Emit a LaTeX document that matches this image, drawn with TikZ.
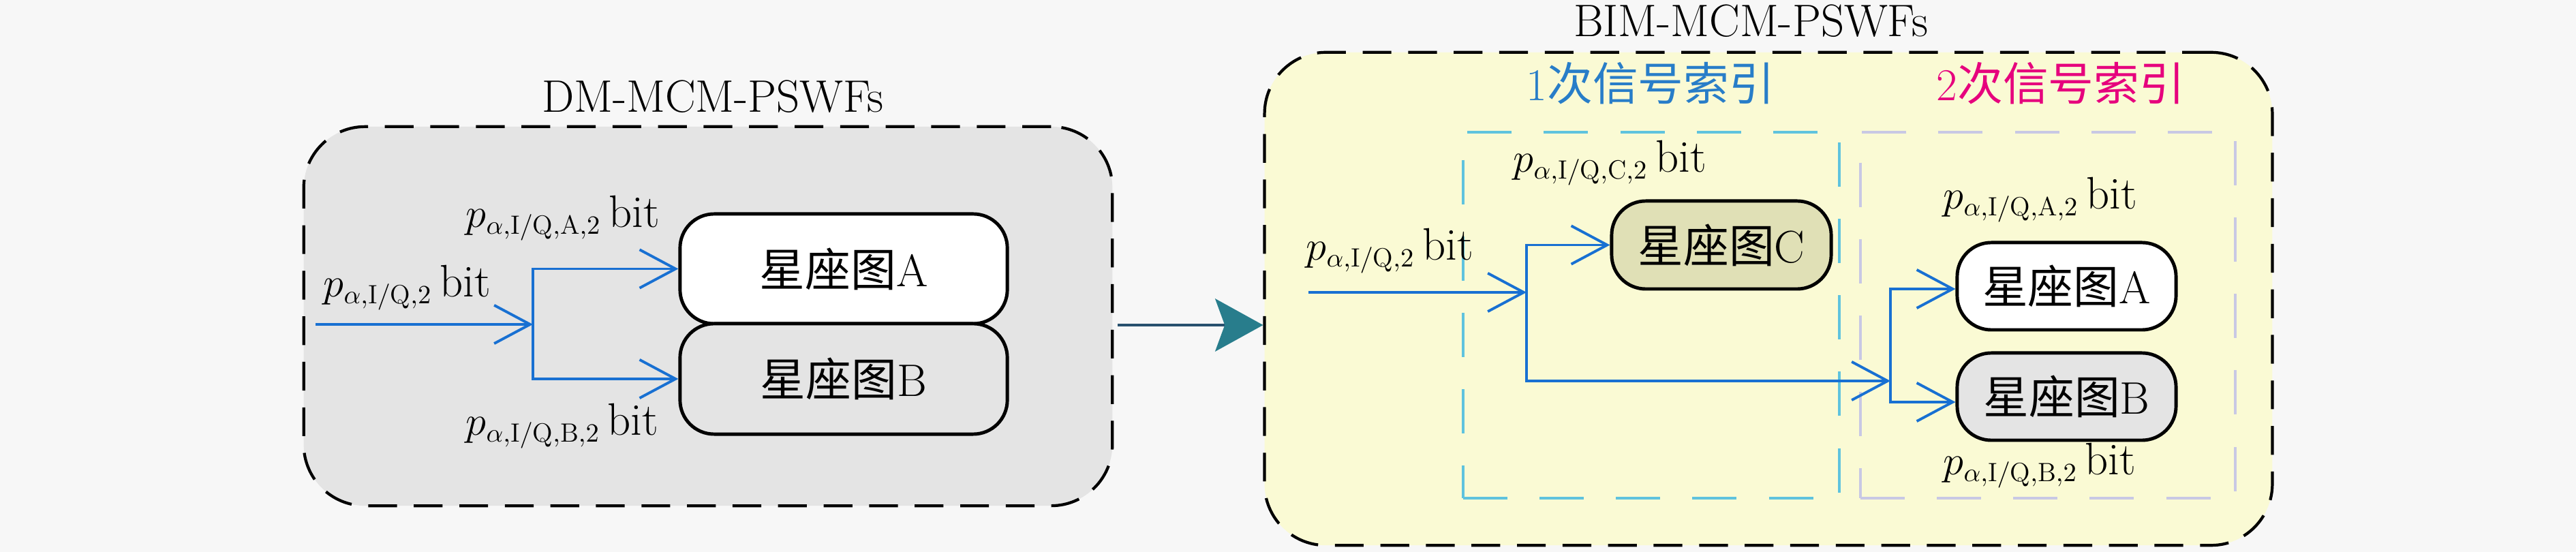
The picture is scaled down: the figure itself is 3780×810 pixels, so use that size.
\documentclass[tikz,border=0pt]{standalone}
\usepackage{fontspec}
\newfontfamily\cjk{Noto Sans CJK SC}
\usetikzlibrary{arrows.meta,calc}
\DeclareMathSizes{19}{19}{11}{8}
\definecolor{bgC}{RGB}{247,247,247}
\definecolor{grayF}{RGB}{228,228,228}
\definecolor{yelF}{RGB}{250,250,212}
\definecolor{olvF}{RGB}{224,224,182}
\definecolor{blueC}{RGB}{24,112,210}
\definecolor{tealC}{RGB}{40,125,140}
\definecolor{midC}{RGB}{40,80,110}
\definecolor{cyanD}{RGB}{95,195,222}
\definecolor{lavD}{RGB}{200,200,228}
\definecolor{txtBlue}{RGB}{40,125,200}
\definecolor{txtPink}{RGB}{230,0,125}
\begin{document}
\begin{tikzpicture}[x=0.01cm,y=-0.01cm,
  font=\fontsize{19}{23}\selectfont,
  bigbox/.style={draw=black,line width=1.2pt,dash pattern=on 12pt off 7pt,rounded corners=0.9cm,inner sep=0pt},
  innerbox/.style={line width=1pt,dash pattern=on 18.5pt off 13.4pt,inner sep=0pt},
  cbox/.style={draw=black,line width=1.4pt,rounded corners=0.5cm,inner sep=0pt},
  lab/.style={anchor=base west,inner sep=0pt},
  barrow/.style={draw=blueC,line width=1.1pt,-{Straight Barb[length=15pt,width=16pt]}},
  midarrow/.style={draw=midC,line width=1.1pt,-{Stealth[length=20pt,width=22pt,inset=4pt,fill=tealC,color=tealC]}}
]
\fill[bgC] (0,0) rectangle (3780,810);
\useasboundingbox (0,0) rectangle (3780,810);

% left big box
\node[bigbox,fill=grayF,minimum width=11.86cm,minimum height=5.56cm] (L) at (1039,464) {};
\node[anchor=base,inner sep=0pt] (tL) at (1046,165) {DM-MCM-PSWFs};
\node[cbox,fill=white,minimum width=4.8cm,minimum height=1.61cm] (A) at (1238,394.5) {{\cjk 星座图}A};
\node[cbox,fill=grayF,minimum width=4.8cm,minimum height=1.62cm] (B) at (1238,556) {{\cjk 星座图}B};
\node[lab] (l1) at (474,436) {$p_{\alpha,\mathrm{I/Q},2}$\,bit};
\node[lab] (l2) at (683,334) {$p_{\alpha,\mathrm{I/Q},\mathrm{A},2}$\,bit};
\node[lab] (l3) at (683,639) {$p_{\alpha,\mathrm{I/Q},\mathrm{B},2}$\,bit};
\coordinate (inL) at (463,476);
\coordinate (brL) at (782,476);
\draw[barrow] (inL) -- (brL);
\draw[barrow] (brL) |- (A.west);
\draw[barrow] (brL) |- (B.west);

% right big box
\node[bigbox,fill=yelF,minimum width=14.78cm,minimum height=7.23cm] (R) at (2595,438.5) {};
\node[anchor=base,inner sep=0pt] (tR) at (2569,54) {BIM-MCM-PSWFs};
\node[innerbox,draw=cyanD,minimum width=5.52cm,minimum height=5.37cm] (I1) at (2423,462.5) {};
\node[innerbox,draw=lavD,minimum width=5.50cm,minimum height=5.37cm] (I2) at (3005,462.5) {};
\node[anchor=base,inner sep=0pt,text=txtBlue] (t1) at (2422,148) {1{\cjk 次信号索引}};
\node[anchor=base,inner sep=0pt,text=txtPink] (t2) at (3024,148) {2{\cjk 次信号索引}};
\node[cbox,fill=olvF,minimum width=3.22cm,minimum height=1.29cm] (C) at (2526,359.5) {{\cjk 星座图}C};
\node[cbox,fill=white,minimum width=3.21cm,minimum height=1.28cm] (A2) at (3032.5,420) {{\cjk 星座图}A};
\node[cbox,fill=grayF,minimum width=3.21cm,minimum height=1.28cm] (B2) at (3032.5,582) {{\cjk 星座图}B};
\node[lab] (r1) at (1916,382) {$p_{\alpha,\mathrm{I/Q},2}$\,bit};
\node[lab] (r2) at (2220,253) {$p_{\alpha,\mathrm{I/Q},\mathrm{C},2}$\,bit};
\node[lab] (r3) at (2851,307) {$p_{\alpha,\mathrm{I/Q},\mathrm{A},2}$\,bit};
\node[lab] (r4) at (2851,697) {$p_{\alpha,\mathrm{I/Q},\mathrm{B},2}$\,bit};
\coordinate (inR) at (1920,429);
\coordinate (brR) at (2240,429);
\coordinate (br2) at (2774,559);
\draw[barrow] (inR) -- (brR);
\draw[barrow] (brR) |- (C.west);
\draw[barrow] (brR) |- (br2);
\draw[barrow] (br2) |- ($(A2.west)+(0,4)$);
\draw[barrow] (br2) |- ($(B2.west)+(0,8)$);

% middle arrow
\coordinate (m1) at (1640,477);
\draw[midarrow] (m1) -- (R.west |- m1);
\end{tikzpicture}
\end{document}
